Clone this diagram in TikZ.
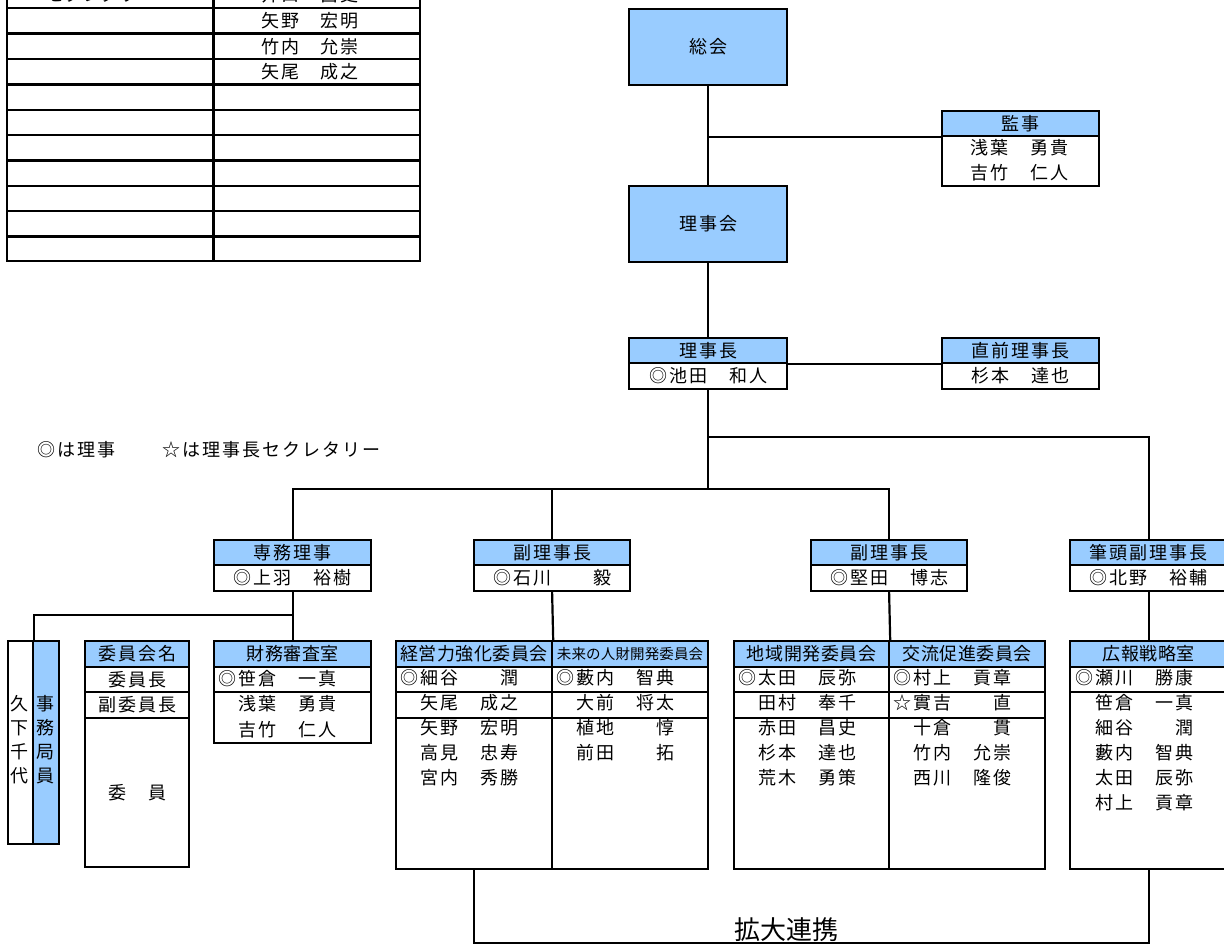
\documentclass[tikz,border=0pt]{standalone}
\usepackage{fontspec}
\newfontfamily\jpn[LetterSpace=11]{Noto Sans CJK JP}
\newfontfamily\jpc[LetterSpace=3]{Noto Sans CJK JP}
\newfontfamily\jpm[LetterSpace=1]{Noto Sans CJK JP}
\newfontfamily\jpp{Noto Sans CJK JP}
\definecolor{hblue}{HTML}{99CCFF}
\newcommand\cmcol[5]{%
  \node[hbx, cmhead, #5, minimum width=#3pt, minimum height=26pt] (#1H) at (#2,640) {#4};
  \node[bx, minimum width=#3pt, minimum height=25pt] (#1R1) at (#2,666) {};
  \node[bx, minimum width=#3pt, minimum height=26pt] (#1R2) at (#2,691) {};
  \node[bx, minimum width=#3pt, minimum height=151pt] (#1B) at (#2,717) {};
}
\newcommand\names[3]{%
  \foreach \t [count=\i] in {#3} \node[nm, anchor=west] (#1n\i) at (#2,653+25*\i) {\t};
}
\begin{document}
\begin{tikzpicture}[x=1pt,y=-1pt,
  ln/.style={line width=2.2pt},
  conn/.style={line width=2.2pt},
  nm/.style={inner sep=0pt, font=\jpn\fontsize{18}{20}\selectfont},
  cmhead/.style={font=\jpc\fontsize{18}{20}\selectfont},
  mirhead/.style={font=\jpm\fontsize{14.5}{16}\selectfont},
  plainhead/.style={},
  bx/.style={draw, line width=2.2pt, inner sep=0pt, anchor=north west, font=\jpn\fontsize{18}{20}\selectfont},
  hbx/.style={bx, fill=hblue},
]
\useasboundingbox (0,0) rectangle (1224,947);

% ---------- top-left table ----------
\draw[ln] (7,-25) rectangle (420,261);
\draw[ln] (213.5,-25) -- (213.5,261);
\foreach \y in {8,33.5,59,84.5,110,135,160.5,186,211,236.5} \draw[ln] (7,\y) -- (420,\y);
\node[inner sep=0pt, font=\jpp\fontsize{18}{20}\selectfont] (t0a) at (100,-5) {セクレタリー};
\node[nm] (t0b) at (310,-5) {井口　昌史};
\node[nm] (t1) at (310,21) {矢野　宏明};
\node[nm] (t2) at (310,46.5) {竹内　允崇};
\node[nm] (t3) at (310,72) {矢尾　成之};

% ---------- top center ----------
\node[hbx, minimum width=158pt, minimum height=76pt] (sokai) at (628,8) {総会};
\node[hbx, minimum width=157pt, minimum height=25pt] (kanjiH) at (941,110) {監事};
\node[bx, minimum width=157pt, minimum height=50pt] (kanjiB) at (941,135) {};
\node[nm] (kanji1) at (1019.5,147.5) {浅葉　勇貴};
\node[nm] (kanji2) at (1019.5,172.5) {吉竹　仁人};
\node[hbx, minimum width=158pt, minimum height=76pt] (rijikai) at (628,185) {理事会};
\node[hbx, minimum width=158pt, minimum height=25pt] (rchoH) at (628,337) {理事長};
\node[bx, minimum width=158pt, minimum height=26pt] (rchoB) at (628,362) {◎池田　和人};
\node[hbx, minimum width=157pt, minimum height=25pt] (zenH) at (941,337) {直前理事長};
\node[bx, minimum width=157pt, minimum height=26pt] (zenB) at (941,362) {杉本　達也};

% legend
\node[nm, anchor=west] (leg1) at (37,450) {◎は理事};
\node[nm, anchor=west] (leg2) at (162,450) {☆は理事長セクレタリー};

% ---------- second level ----------
\node[hbx, minimum width=157pt, minimum height=25pt] (senmuH) at (213,539) {専務理事};
\node[bx, minimum width=157pt, minimum height=26pt] (senmuB) at (213,564) {◎上羽　裕樹};
\node[hbx, minimum width=156pt, minimum height=25pt] (fuku1H) at (473,539) {副理事長};
\node[bx, minimum width=156pt, minimum height=26pt] (fuku1B) at (473,564) {◎石川　　毅};
\node[hbx, minimum width=156pt, minimum height=25pt] (fuku2H) at (810,539) {副理事長};
\node[bx, minimum width=156pt, minimum height=26pt] (fuku2B) at (810,564) {◎堅田　博志};
\node[hbx, minimum width=157pt, minimum height=25pt] (hittoH) at (1069,539) {筆頭副理事長};
\node[bx, minimum width=157pt, minimum height=26pt] (hittoB) at (1069,564) {◎北野　裕輔};

% ---------- left group ----------
\node[bx, minimum width=25pt, minimum height=203pt] (kuge) at (7,640) {};
\node[hbx, minimum width=26pt, minimum height=203pt] (jimu) at (32,640) {};
\node[inner sep=0pt, align=center, font=\jpp\fontsize{18}{24}\selectfont] (kugeT) at (19.5,740) {久\\下\\千\\代};
\node[inner sep=0pt, align=center, font=\jpp\fontsize{18}{24}\selectfont] (jimuT) at (45,740) {事\\務\\局\\員};

\node[hbx, minimum width=104pt, minimum height=26pt] (iinH) at (84,640) {委員会名};
\node[bx, minimum width=104pt, minimum height=25pt] (iin1) at (84,666) {委員長};
\node[bx, minimum width=104pt, minimum height=26pt] (iin2) at (84,691) {副委員長};
\node[bx, minimum width=104pt, minimum height=149pt] (iinB) at (84,717) {委　員};

\node[hbx, cmhead, minimum width=157pt, minimum height=26pt] (zaimuH) at (213,640) {財務審査室};
\node[bx, minimum width=157pt, minimum height=25pt] (zaimu1) at (213,666) {};
\node[bx, minimum width=157pt, minimum height=51pt] (zaimuB) at (213,691) {};
\node[nm, anchor=west] (zaimuT1) at (218,678.5) {◎笹倉　一真};
\node[nm, anchor=west] (zaimuT2) at (218,704) {　浅葉　勇貴};
\node[nm, anchor=west] (zaimuT3) at (218,729.5) {　吉竹　仁人};

% ---------- committees ----------
\cmcol{kei}{395}{156}{経営力強化委員会}{plainhead}
\cmcol{mirai}{551}{156}{未来の人財開発委員会}{mirhead}
\cmcol{chiiki}{733}{155}{地域開発委員会}{plainhead}
\cmcol{koryu}{888}{156}{交流促進委員会}{plainhead}
\names{kei}{400}{◎細谷　　潤,　矢尾　成之,　矢野　宏明,　高見　忠寿,　宮内　秀勝}
\names{mirai}{556}{◎藪内　智典,　大前　将太,　植地　　惇,　前田　　拓}
\names{chiiki}{738}{◎太田　辰弥,　田村　奉千,　赤田　昌史,　杉本　達也,　荒木　勇策}
\names{koryu}{893}{◎村上　貢章,☆實吉　　直,　十倉　　貫,　竹内　允崇,　西川　隆俊}

\node[hbx, cmhead, minimum width=157pt, minimum height=26pt] (kohoH) at (1069,640) {広報戦略室};
\node[bx, minimum width=157pt, minimum height=25pt] (kohoR1) at (1069,666) {};
\node[bx, minimum width=157pt, minimum height=177pt] (kohoB) at (1069,691) {};
\names{koho}{1075}{◎瀬川　勝康,　笹倉　一真,　細谷　　潤,　藪内　智典,　太田　辰弥,　村上　貢章}

% ---------- connectors ----------
\coordinate (y437) at (0,437);
\coordinate (y489) at (0,489);
\coordinate (y615) at (0,615);
\coordinate (y943) at (0,943);
\draw[conn] (sokai.south) -- (rijikai.north);
\draw[conn] (sokai.south |- kanjiH.south west) -- (kanjiH.south west);
\draw[conn] (rijikai.south) -- (rchoH.north);
\draw[conn] (rchoH.south east) -- (zenH.south west);
\coordinate (j2) at (rchoB.south |- y489);
\draw[conn] (rchoB.south) -- (j2);
\draw[conn] (rchoB.south |- y437) -| (hittoH.north);
\draw[conn] (senmuH.north) |- (j2) -| (fuku2H.north);
\draw[conn] (fuku1H.north) -- (fuku1H.north |- j2);
\coordinate (j3) at (senmuB.south |- y615);
\draw[conn] (senmuB.south) -- (zaimuH.north);
\draw[conn] (j3) -| (kuge.north east);
\draw[conn] (fuku1B.south) -- (keiH.north east);
\draw[conn] (fuku2B.south) -- (chiikiH.north east);
\draw[conn] (hittoB.south) -- (kohoH.north);
\coordinate (bot) at (kohoB.south |- y943);
\draw[conn] (keiB.south) |- (bot) -- (kohoB.south);
\node[inner sep=0pt, font=\jpp\fontsize{26}{28}\selectfont] (kakudai) at (786,930) {拡大連携};
\end{tikzpicture}
\end{document}
